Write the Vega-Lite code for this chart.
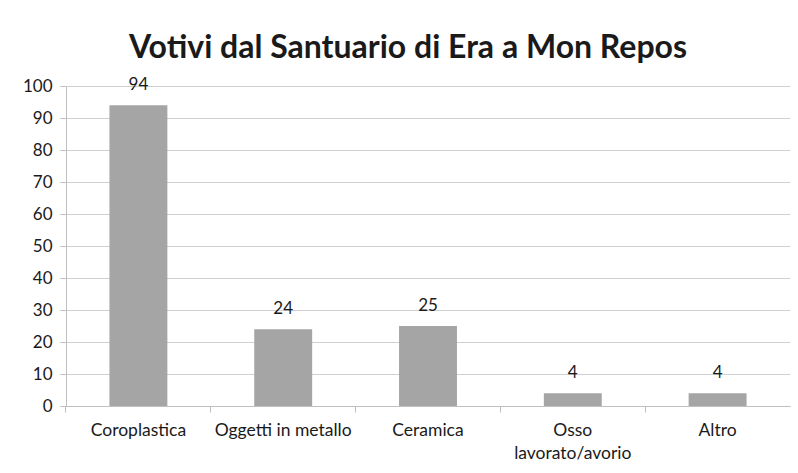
{
  "$schema": "https://vega.github.io/schema/vega-lite/v6.json",
  "width": 724,
  "height": 320,
  "autosize": {"type": "none"},
  "padding": {"left": 66, "top": 86, "right": 8, "bottom": 67},
  "background": "white",
  "title": {
    "text": "Votivi dal Santuario di Era a Mon Repos",
    "font": "Lato",
    "fontSize": 32,
    "fontWeight": "bold",
    "color": "#1a1a1a",
    "anchor": "middle",
    "frame": "group",
    "dx": -20,
    "baseline": "alphabetic",
    "offset": -14
  },
  "data": {
    "values": [
      {"categoria": "Coroplastica", "valore": 94},
      {"categoria": "Oggetti in metallo", "valore": 24},
      {"categoria": "Ceramica", "valore": 25},
      {"categoria": "Osso lavorato/avorio", "valore": 4},
      {"categoria": "Altro", "valore": 4}
    ]
  },
  "encoding": {
    "x": {
      "field": "categoria",
      "type": "nominal",
      "sort": null,
      "title": null,
      "scale": {"paddingInner": 0.6, "paddingOuter": 0.3},
      "axis": {
        "labelAngle": 0,
        "labelFont": "Lato",
        "labelFontSize": 17.5,
        "labelColor": "#1a1a1a",
        "labelPadding": 9,
        "labelLineHeight": 23,
        "labelExpr": "datum.label == 'Osso lavorato/avorio' ? ['Osso', 'lavorato/avorio'] : datum.label",
        "domainColor": "#bfbfbf",
        "tickColor": "#bfbfbf",
        "tickSize": 6,
        "bandPosition": -0.75,
        "labelBound": false,
        "labelOverlap": false
      }
    },
    "y": {
      "field": "valore",
      "type": "quantitative",
      "title": null,
      "scale": {"domain": [0, 100], "nice": false},
      "axis": {
        "values": [0, 10, 20, 30, 40, 50, 60, 70, 80, 90, 100],
        "labelFont": "Lato",
        "labelFontSize": 17,
        "labelColor": "#1a1a1a",
        "labelPadding": 8,
        "domainColor": "#bfbfbf",
        "tickColor": "#bfbfbf",
        "tickSize": 6,
        "gridColor": "#d0d0d0",
        "grid": true
      }
    }
  },
  "layer": [
    {"mark": {"type": "bar", "color": "#a5a5a5"}},
    {
      "mark": {"type": "text", "dy": -11, "baseline": "bottom", "font": "Lato", "fontSize": 17, "color": "#1a1a1a"},
      "encoding": {"text": {"field": "valore", "type": "quantitative"}}
    }
  ],
  "config": {"view": {"stroke": null}}
}
